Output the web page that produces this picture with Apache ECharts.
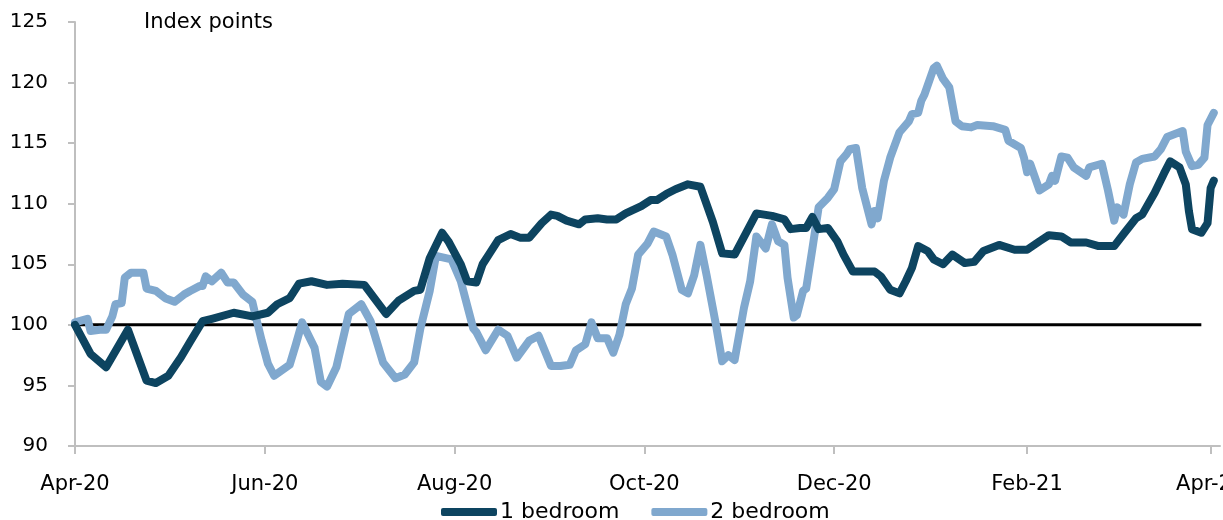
<!DOCTYPE html>
<html>
<head>
<meta charset="utf-8">
<script src="https://cdn.jsdelivr.net/npm/echarts@6/dist/echarts.min.js"></script>
<style>
  html, body { margin: 0; padding: 0; background: #fff; }
  #chart { width: 1223px; height: 520px; }
</style>
</head>
<body>
<div id="chart"></div>
<script>
// days counted from 1 Apr 2020
const tickDays = [0, 61, 122, 183, 244, 306, 365]
const tickLabels = ['Apr-20', 'Jun-20', 'Aug-20', 'Oct-20', 'Dec-20', 'Feb-21', 'Apr-21']

const oneBedDays = [0, 5, 10, 17, 23, 26, 30, 34, 37, 41, 44, 51, 57, 62, 65, 69, 72, 76, 81, 86, 93, 100, 104, 109, 111, 114, 118, 120, 124, 126, 129, 131, 133, 136, 140, 143, 146, 150, 153, 155, 158, 162, 164, 168, 171, 174, 177, 182, 185, 187, 190, 193, 197, 201, 205, 208, 212, 219, 224, 228, 230, 233, 235, 237, 239, 242, 245, 247, 250, 253, 257, 259, 262, 265, 267, 269, 271, 274, 276, 279, 282, 286, 289, 292, 297, 302, 306, 310, 313, 317, 320, 325, 329, 334, 337, 341, 343, 347, 350, 352, 355, 357, 358, 359, 362, 364, 365, 366]
const oneBedValues = [100.0, 97.6, 96.5, 99.6, 95.4, 95.2, 95.8, 97.3, 98.6, 100.3, 100.5, 101.0, 100.7, 101.0, 101.7, 102.2, 103.4, 103.6, 103.3, 103.4, 103.3, 100.9, 102.0, 102.8, 102.9, 105.5, 107.6, 106.9, 105.0, 103.6, 103.5, 105.0, 105.8, 107.0, 107.5, 107.2, 107.2, 108.4, 109.1, 109.0, 108.6, 108.3, 108.7, 108.8, 108.7, 108.7, 109.2, 109.8, 110.3, 110.3, 110.8, 111.2, 111.6, 111.4, 108.5, 105.9, 105.8, 109.2, 109.0, 108.7, 107.9, 108.0, 108.0, 108.9, 107.9, 108.0, 106.9, 105.8, 104.4, 104.4, 104.4, 104.0, 102.9, 102.6, 103.6, 104.7, 106.5, 106.1, 105.4, 105.0, 105.8, 105.1, 105.2, 106.1, 106.6, 106.2, 106.2, 106.9, 107.4, 107.3, 106.8, 106.8, 106.5, 106.5, 107.5, 108.8, 109.1, 110.9, 112.5, 113.5, 113.0, 111.6, 109.4, 107.9, 107.6, 108.4, 111.3, 111.9]

const twoBedDays = [0, 4, 5, 8, 10, 12, 13, 15, 16, 18, 22, 23, 26, 29, 32, 35, 37, 40, 41, 42, 44, 47, 49, 51, 54, 57, 58, 60, 62, 64, 69, 71, 73, 77, 79, 81, 84, 88, 92, 95, 99, 103, 106, 109, 111, 114, 116, 121, 124, 128, 129, 132, 136, 139, 142, 146, 149, 153, 156, 159, 161, 164, 166, 168, 171, 173, 175, 177, 179, 181, 184, 186, 190, 192, 195, 197, 199, 201, 203, 206, 208, 210, 212, 215, 217, 219, 222, 224, 226, 228, 229, 231, 232, 234, 235, 237, 239, 242, 244, 246, 248, 249, 251, 253, 256, 257, 258, 260, 262, 265, 268, 269, 271, 272, 273, 276, 277, 279, 281, 283, 285, 288, 290, 295, 299, 300, 304, 305, 306, 307, 310, 313, 314, 315, 317, 319, 321, 325, 326, 330, 332, 334, 335, 337, 339, 341, 343, 347, 349, 351, 356, 357, 359, 361, 363, 364, 366]
const twoBedValues = [100.2, 100.5, 99.5, 99.6, 99.6, 100.7, 101.7, 101.8, 103.9, 104.3, 104.3, 103.0, 102.8, 102.2, 101.9, 102.5, 102.8, 103.2, 103.2, 104.0, 103.6, 104.3, 103.5, 103.5, 102.5, 101.9, 100.8, 98.7, 96.8, 95.8, 96.7, 98.4, 100.2, 98.1, 95.3, 94.9, 96.5, 100.9, 101.7, 100.3, 96.9, 95.6, 95.9, 96.9, 99.7, 102.8, 105.7, 105.4, 103.6, 99.7, 99.4, 97.9, 99.6, 99.1, 97.3, 98.7, 99.1, 96.6, 96.6, 96.7, 97.9, 98.4, 100.2, 98.9, 98.9, 97.7, 99.2, 101.7, 103.0, 105.8, 106.7, 107.7, 107.3, 105.8, 102.9, 102.6, 104.1, 106.6, 104.1, 100.0, 97.0, 97.5, 97.1, 101.4, 103.6, 107.3, 106.3, 108.3, 106.9, 106.6, 103.9, 100.6, 100.8, 102.8, 103.0, 106.3, 109.7, 110.5, 111.2, 113.5, 114.1, 114.5, 114.6, 111.3, 108.3, 109.4, 108.8, 111.9, 113.8, 115.9, 116.8, 117.4, 117.5, 118.5, 119.0, 121.2, 121.4, 120.3, 119.6, 116.8, 116.4, 116.3, 116.5, 116.4, 116.1, 115.2, 114.6, 113.8, 112.6, 113.3, 111.1, 111.6, 112.3, 111.9, 113.9, 113.8, 113.0, 112.3, 113.0, 113.3, 111.1, 108.6, 109.7, 109.1, 111.6, 113.4, 113.7, 113.9, 114.5, 115.5, 116.0, 114.3, 113.1, 113.2, 113.8, 116.5, 117.5]

const baseDays = [0, 362]
const baseValues = [100, 100]

const pairs = (xs, ys) => xs.map((x, i) => [x, ys[i]])

const FONT = 'DejaVu Sans'
const chart = echarts.init(document.getElementById('chart'))

chart.setOption({
  animation: false,
  title: {
    text: 'Index points',
    left: 139, top: 7,
    textStyle: { fontFamily: FONT, fontSize: 21, fontWeight: 'normal', color: '#000' }
  },
  legend: {
    data: ['1 bedroom', '2 bedroom'],
    left: 436, top: 496,
    icon: 'roundRect',
    itemWidth: 56, itemHeight: 8, itemGap: 32,
    textStyle: { fontFamily: FONT, fontSize: 22, color: '#000', padding: [0, 0, 0, -2] }
  },
  grid: { left: 75, right: 3, top: 22, bottom: 74, outerBoundsMode: 'none', containLabel: false },
  xAxis: {
    type: 'value',
    min: 0, max: 368,
    splitLine: { show: false },
    axisLine: { lineStyle: { color: '#BFBFBF', width: 2 } },
    axisTick: { show: true, length: 8, customValues: tickDays, lineStyle: { color: '#BFBFBF', width: 2 } },
    axisLabel: {
      customValues: tickDays,
      margin: 28,
      hideOverlap: false,
      fontFamily: FONT, fontSize: 21, color: '#000',
      formatter: (v) => tickLabels[tickDays.indexOf(v)] || ''
    }
  },
  yAxis: {
    type: 'value',
    min: 90, max: 125, interval: 5,
    splitLine: { show: false },
    axisLine: { show: true, lineStyle: { color: '#BFBFBF', width: 2 } },
    axisTick: { show: true, length: 7, lineStyle: { color: '#BFBFBF', width: 2 } },
    axisLabel: { margin: 27, fontFamily: FONT, fontSize: 20, color: '#000' }
  },
  series: [
    {
      name: 'base', type: 'line', data: pairs(baseDays, baseValues),
      symbol: 'none', silent: true, z: 1,
      lineStyle: { color: '#000', width: 3 }
    },
    {
      name: '2 bedroom', type: 'line', data: pairs(twoBedDays, twoBedValues),
      symbol: 'none', z: 2,
      itemStyle: { color: '#80A8CE' },
      lineStyle: { color: '#80A8CE', width: 8, cap: 'round', join: 'round' }
    },
    {
      name: '1 bedroom', type: 'line', data: pairs(oneBedDays, oneBedValues),
      symbol: 'none', z: 3,
      itemStyle: { color: '#0D4460' },
      lineStyle: { color: '#0D4460', width: 8, cap: 'round', join: 'round' }
    }
  ]
})
</script>
</body>
</html>
